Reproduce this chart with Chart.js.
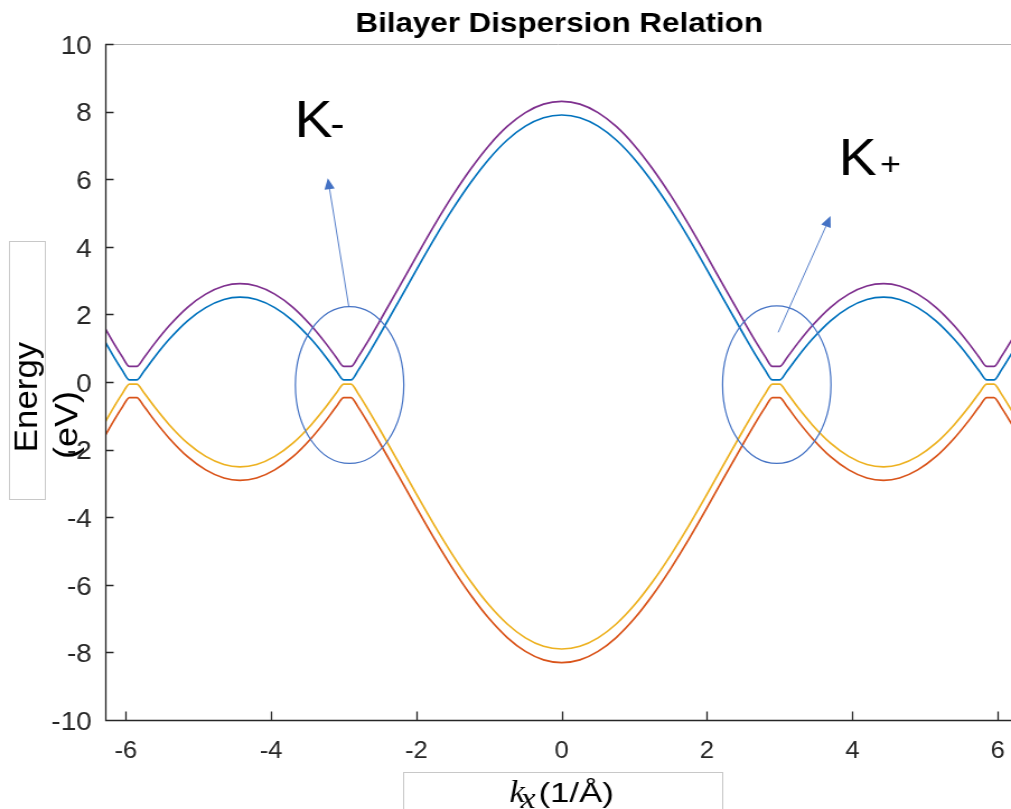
<!DOCTYPE html>
<html>
<head>
<meta charset="utf-8">
<title>Bilayer Dispersion Relation</title>
<script src="https://cdn.jsdelivr.net/npm/chart.js@4.4.1/dist/chart.umd.min.js"></script>
<style>
  html, body { margin: 0; padding: 0; background: #fff; overflow: hidden; }
  /* the figure is drawn a little narrow and widened to fill the window */
  #plot { display: block; transform: scaleX(1.1196); transform-origin: 0 0; }
</style>
</head>
<body>
<canvas id="plot" width="903" height="809"></canvas>
<script>
// wave vector along kx (1/Å)
const kx = [-6.28, -6.15, -6.05, -5.95, -5.85, -5.75, -5.6, -5.4, -5.15, -4.9, -4.65, -4.43, -4.2,
  -3.95, -3.7, -3.45, -3.25, -3.1, -3.0, -2.9, -2.8, -2.7, -2.5, -2.25, -2.0, -1.75, -1.5, -1.25,
  -1.0, -0.75, -0.5, -0.25, 0, 0.25, 0.5, 0.75, 1.0, 1.25, 1.5, 1.75, 2.0, 2.25, 2.5, 2.7, 2.8,
  2.9, 3.0, 3.1, 3.25, 3.45, 3.7, 3.95, 4.2, 4.43, 4.65, 4.9, 5.15, 5.4, 5.6, 5.75, 5.85, 5.95,
  6.05, 6.15, 6.28];

// band energies (eV)
const upperBand = [1.57, 1.09, 0.75, 0.46, 0.46, 0.72, 1.15, 1.67, 2.21, 2.60, 2.84, 2.91, 2.84,
  2.60, 2.21, 1.67, 1.15, 0.72, 0.46, 0.46, 0.75, 1.09, 1.82, 2.76, 3.72, 4.65, 5.52, 6.31,
  7.00, 7.56, 7.97, 8.22, 8.30, 8.22, 7.97, 7.56, 7.00, 6.31, 5.52, 4.65, 3.72, 2.76, 1.82, 1.09, 0.75,
  0.46, 0.46, 0.72, 1.15, 1.67, 2.21, 2.60, 2.84, 2.91, 2.84, 2.60, 2.21, 1.67, 1.15, 0.72, 0.46, 0.46,
  0.75, 1.09, 1.57];
const conductionBand = [1.17, 0.69, 0.35, 0.06, 0.06, 0.32, 0.75, 1.27, 1.81, 2.20, 2.44, 2.51, 2.44,
  2.20, 1.81, 1.27, 0.75, 0.32, 0.06, 0.06, 0.35, 0.69, 1.42, 2.36, 3.32, 4.25, 5.12, 5.91,
  6.60, 7.16, 7.57, 7.82, 7.90, 7.82, 7.57, 7.16, 6.60, 5.91, 5.12, 4.25, 3.32, 2.36, 1.42, 0.69, 0.35,
  0.06, 0.06, 0.32, 0.75, 1.27, 1.81, 2.20, 2.44, 2.51, 2.44, 2.20, 1.81, 1.27, 0.75, 0.32, 0.06, 0.06,
  0.35, 0.69, 1.17];
const valenceBand = [-1.17, -0.69, -0.35, -0.06, -0.06, -0.32, -0.75, -1.27, -1.81, -2.20, -2.44, -2.51, -2.44,
  -2.20, -1.81, -1.27, -0.75, -0.32, -0.06, -0.06, -0.35, -0.69, -1.42, -2.36, -3.32, -4.25, -5.12, -5.91,
  -6.60, -7.16, -7.57, -7.82, -7.90, -7.82, -7.57, -7.16, -6.60, -5.91, -5.12, -4.25, -3.32, -2.36, -1.42, -0.69, -0.35,
  -0.06, -0.06, -0.32, -0.75, -1.27, -1.81, -2.20, -2.44, -2.51, -2.44, -2.20, -1.81, -1.27, -0.75, -0.32, -0.06, -0.06,
  -0.35, -0.69, -1.17];
const lowerBand = [-1.57, -1.09, -0.75, -0.46, -0.46, -0.72, -1.15, -1.67, -2.21, -2.60, -2.84, -2.91, -2.84,
  -2.60, -2.21, -1.67, -1.15, -0.72, -0.46, -0.46, -0.75, -1.09, -1.82, -2.76, -3.72, -4.65, -5.52, -6.31,
  -7.00, -7.56, -7.97, -8.22, -8.30, -8.22, -7.97, -7.56, -7.00, -6.31, -5.52, -4.65, -3.72, -2.76, -1.82, -1.09, -0.75,
  -0.46, -0.46, -0.72, -1.15, -1.67, -2.21, -2.60, -2.84, -2.91, -2.84, -2.60, -2.21, -1.67, -1.15, -0.72, -0.46, -0.46,
  -0.75, -1.09, -1.57];

const xTicks = [-6, -4, -2, 0, 2, 4, 6];
const yTicks = [-10, -8, -6, -4, -2, 0, 2, 4, 6, 8, 10];

// K valleys: circle, arrow and label, all in data units
const valleys = [
  { sign: '-', center: [-2.92, -0.09], radius: [0.746, 2.32], from: [-2.93, 2.22], to: [-3.22, 6.03], text: [-3.68, 7.25], signGap: -2 },
  { sign: '+', center: [2.96, -0.08], radius: [0.746, 2.33], from: [2.98, 1.47], to: [3.70, 4.91], text: [3.81, 6.12], signGap: 3 }
];

const SANS = "'Liberation Sans', Arial, sans-serif";
const AXIS = '#262626';
const MARK = '#4472C4';

Chart.defaults.font.family = SANS;

function band(label, values, color) {
  return {
    label: label,
    data: kx.map((k, i) => ({ x: k, y: values[i] })),
    borderColor: color,
    backgroundColor: color,
    borderWidth: 1.7,
    pointRadius: 0,
    cubicInterpolationMode: 'monotone',
    fill: false
  };
}

function arrow(ctx, x0, y0, x1, y1) {
  const a = Math.atan2(y1 - y0, x1 - x0);
  const len = 11, half = 4.6;
  const bx = x1 - len * Math.cos(a), by = y1 - len * Math.sin(a);
  ctx.lineWidth = 0.9;
  ctx.beginPath();
  ctx.moveTo(x0, y0);
  ctx.lineTo(bx, by);
  ctx.stroke();
  ctx.beginPath();
  ctx.moveTo(x1, y1);
  ctx.lineTo(bx + half * Math.sin(a), by - half * Math.cos(a));
  ctx.lineTo(bx - half * Math.sin(a), by + half * Math.cos(a));
  ctx.closePath();
  ctx.fill();
}

const figure = {
  id: 'figure',
  afterDatasetsDraw(chart) {
    const { ctx, chartArea: a, scales: { x, y } } = chart;
    ctx.save();

    // axes box: pale top edge, dark left and bottom with inward ticks
    ctx.strokeStyle = '#b4b4b4';
    ctx.lineWidth = 1;
    ctx.beginPath();
    ctx.moveTo(a.left, a.top + 0.5);
    ctx.lineTo(a.right, a.top + 0.5);
    ctx.stroke();

    ctx.strokeStyle = AXIS;
    ctx.lineWidth = 1.3;
    ctx.beginPath();
    ctx.moveTo(a.left + 0.5, a.top);
    ctx.lineTo(a.left + 0.5, a.bottom + 0.5);
    ctx.lineTo(a.right, a.bottom + 0.5);
    xTicks.forEach(v => {
      const px = Math.round(x.getPixelForValue(v)) + 0.5;
      ctx.moveTo(px, a.bottom);
      ctx.lineTo(px, a.bottom - 8.5);
    });
    yTicks.forEach(v => {
      const py = Math.round(y.getPixelForValue(v)) + 0.5;
      ctx.moveTo(a.left, py);
      ctx.lineTo(a.left + 7.5, py);
    });
    ctx.stroke();

    // valley markers
    ctx.strokeStyle = MARK;
    ctx.fillStyle = MARK;
    valleys.forEach(v => {
      const cx = x.getPixelForValue(v.center[0]);
      const cy = y.getPixelForValue(v.center[1]);
      const rx = x.getPixelForValue(v.center[0] + v.radius[0]) - cx;
      const ry = cy - y.getPixelForValue(v.center[1] + v.radius[1]);
      ctx.lineWidth = 1.2;
      ctx.beginPath();
      ctx.ellipse(cx, cy, rx, ry, 0, 0, Math.PI * 2);
      ctx.stroke();
      arrow(ctx, x.getPixelForValue(v.from[0]), y.getPixelForValue(v.from[1]),
        x.getPixelForValue(v.to[0]), y.getPixelForValue(v.to[1]));
    });

    ctx.fillStyle = '#000';
    ctx.textBaseline = 'alphabetic';
    ctx.textAlign = 'left';
    valleys.forEach(v => {
      const tx = x.getPixelForValue(v.text[0]);
      const ty = y.getPixelForValue(v.text[1]);
      ctx.font = '51px ' + SANS;
      ctx.fillText('K', tx, ty);
      const w = ctx.measureText('K').width;
      ctx.font = (v.sign === '+' ? '32px ' : '38px ') + SANS;
      ctx.fillText(v.sign, tx + w + v.signGap, ty);
    });
    ctx.restore();
  },
  afterDraw(chart) {
    const { ctx, chartArea: a } = chart;
    ctx.save();
    ctx.fillStyle = '#000';

    // title
    ctx.font = 'bold 28px ' + SANS;
    ctx.textAlign = 'center';
    ctx.textBaseline = 'alphabetic';
    ctx.fillText('Bilayer Dispersion Relation', (a.left + a.right) / 2 + 1, 32);

    // y label in its box
    ctx.strokeStyle = '#c8c8c8';
    ctx.lineWidth = 1;
    ctx.strokeRect(8.5, 241.5, 32, 258);
    ctx.font = '30px ' + SANS;
    ctx.save();
    ctx.translate(33, 397);
    ctx.rotate(-Math.PI / 2);
    ctx.scale(1.16, 1);
    ctx.fillText('Energy', 0, 0);
    ctx.restore();
    ctx.save();
    ctx.translate(68.5, 425);
    ctx.rotate(-Math.PI / 2);
    ctx.scale(1.2, 1);
    ctx.fillText('(eV)', 0, 0);
    ctx.restore();

    // x label in its box
    ctx.strokeRect(360.5, 772.5, 285, 40);
    ctx.textAlign = 'left';
    ctx.font = 'italic 31px "Liberation Serif", serif';
    ctx.fillText('k', 455, 802);
    ctx.font = 'italic 30px "Liberation Serif", serif';
    ctx.fillText('x', 465, 808);
    ctx.save();
    ctx.translate(481, 802);
    ctx.scale(1.15, 1);
    ctx.font = '27px ' + SANS;
    ctx.fillText('(1/Å)', 0, 0);
    ctx.restore();

    ctx.restore();
  }
};

new Chart(document.getElementById('plot'), {
  type: 'line',
  data: {
    datasets: [
      band('conduction', conductionBand, '#0072BD'),
      band('lower', lowerBand, '#D95319'),
      band('valence', valenceBand, '#EDB120'),
      band('upper', upperBand, '#7E2F8E')
    ]
  },
  options: {
    responsive: false,
    animation: false,
    events: [],
    layout: { padding: { top: 44, left: 0, right: 0, bottom: 0 } },
    plugins: {
      legend: { display: false },
      title: { display: false },
      tooltip: { enabled: false }
    },
    scales: {
      x: {
        type: 'linear',
        min: -6.283,
        max: 6.184,
        grid: { display: false, drawTicks: false },
        border: { display: false },
        ticks: { color: AXIS, font: { size: 23 }, padding: 18, includeBounds: false, maxRotation: 0 },
        afterBuildTicks: s => { s.ticks = xTicks.map(v => ({ value: v })); },
        afterFit: s => { s.height = 89; s.paddingLeft = 0; s.paddingRight = 0; }
      },
      y: {
        type: 'linear',
        min: -10,
        max: 10,
        grid: { display: false, drawTicks: false },
        border: { display: false },
        ticks: { color: AXIS, font: { size: 25 }, padding: 12, labelOffset: 3 },
        afterBuildTicks: s => { s.ticks = yTicks.map(v => ({ value: v })); },
        afterFit: s => { s.width = 94; s.paddingTop = 0; s.paddingBottom = 0; }
      }
    }
  },
  plugins: [figure]
});
</script>
</body>
</html>
